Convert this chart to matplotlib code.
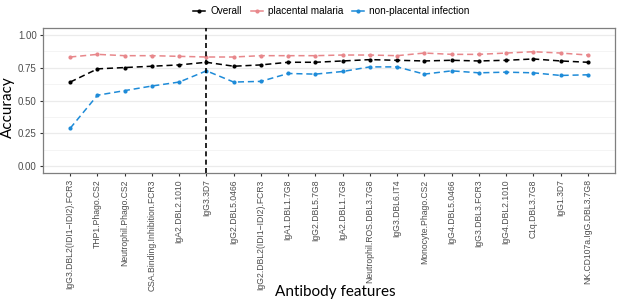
import matplotlib
matplotlib.use("Agg")
import matplotlib.pyplot as plt
from matplotlib.lines import Line2D

features = [
    "IgG3.DBL2(IDI1\u2212IDI2).FCR3", "THP1.Phago.CS2", "Neutrophil.Phago.CS2",
    "CSA.Binding.Inhibition.FCR3", "IgA2.DBL2.1010", "IgG3.3D7", "IgG2.DBL5.0466",
    "IgG2.DBL2(IDI1\u2212IDI2).FCR3", "IgA1.DBL1.7G8", "IgG2.DBL5.7G8", "IgA2.DBL1.7G8",
    "Neutrophil.ROS.DBL3.7G8", "IgG3.DBL6.IT4", "Monocyte.Phago.CS2", "IgG4.DBL5.0466",
    "IgG3.DBL3.FCR3", "IgG4.DBL2.1010", "C1q.DBL3.7G8", "IgG1.3D7", "NK.CD107a.IgG.DBL3.7G8",
]
overall = [0.64, 0.74, 0.75, 0.76, 0.77, 0.79, 0.76, 0.77, 0.79, 0.79,
           0.80, 0.81, 0.805, 0.80, 0.805, 0.80, 0.805, 0.815, 0.80, 0.79]
placental = [0.83, 0.85, 0.84, 0.84, 0.835, 0.83, 0.83, 0.84, 0.84, 0.84,
             0.845, 0.845, 0.84, 0.86, 0.85, 0.85, 0.86, 0.87, 0.86, 0.845]
nonplacental = [0.29, 0.54, 0.575, 0.61, 0.64, 0.725, 0.64, 0.645, 0.705, 0.70,
                0.72, 0.755, 0.755, 0.70, 0.725, 0.71, 0.715, 0.71, 0.69, 0.695]
yticks = [0.00, 0.25, 0.50, 0.75, 1.00]
cutoff_feature = "IgG3.3D7"

series = [("Overall", overall, "#000000"),
          ("placental malaria", placental, "#E8878B"),
          ("non-placental infection", nonplacental, "#1E8BD8")]

plt.rcParams["font.family"] = ["Liberation Sans", "DejaVu Sans"]

fig = plt.figure(figsize=(6.17, 3.01), dpi=100)
ax = fig.add_axes([0.0697, 0.4252, 0.9271, 0.4818])

x = list(range(len(features)))
for name, vals, col in series:
    ax.plot(x, vals, linestyle=(0, (4, 2.5)), color=col, linewidth=1.1,
            marker="o", markersize=3, markeredgewidth=0, label=name, zorder=3)

ax.axvline(features.index(cutoff_feature), color="black", linestyle=(0, (3, 2)),
           linewidth=1.2, zorder=4)

ax.set_xlim(-1, len(features))
ax.set_ylim(-0.05, 1.05)
ax.set_yticks(yticks)
ax.set_yticklabels([f"{v:.2f}" for v in yticks], fontsize=7, color="#4D4D4D")
ax.set_yticks([0.125, 0.375, 0.625, 0.875], minor=True)
ax.yaxis.grid(True, which="major", color="#EBEBEB", linewidth=0.9)
ax.yaxis.grid(True, which="minor", color="#F3F3F3", linewidth=0.6)
ax.tick_params(axis="y", which="minor", length=0)
ax.set_axisbelow(True)

ax.set_xticks(x)
ax.set_xticklabels(features, rotation=90, fontsize=6.2, color="#4D4D4D")
ax.tick_params(axis="both", which="major", length=2.5, width=0.8, color="#333333", pad=2)

for s in ax.spines.values():
    s.set_color("#7F7F7F")
    s.set_linewidth(0.9)

fig.text(8 / 617, 0.645, "Accuracy", rotation=90, ha="center", va="center",
         fontsize=11, family="Lato")
fig.text(0.543, 0.03, "Antibody features", ha="center", va="center",
         fontsize=11, family="Lato")

handles = [Line2D([0], [0], color=c, linestyle="-", linewidth=1.1, marker="o",
                  markersize=3, markeredgewidth=0) for _, _, c in series]
fig.legend(handles, [n for n, _, _ in series], loc="center", bbox_to_anchor=(0.537, 0.963),
           ncol=3, frameon=False, fontsize=7.2, handlelength=1.2, handletextpad=0.5,
           columnspacing=0.9)

fig.savefig("out.png", dpi=100)
